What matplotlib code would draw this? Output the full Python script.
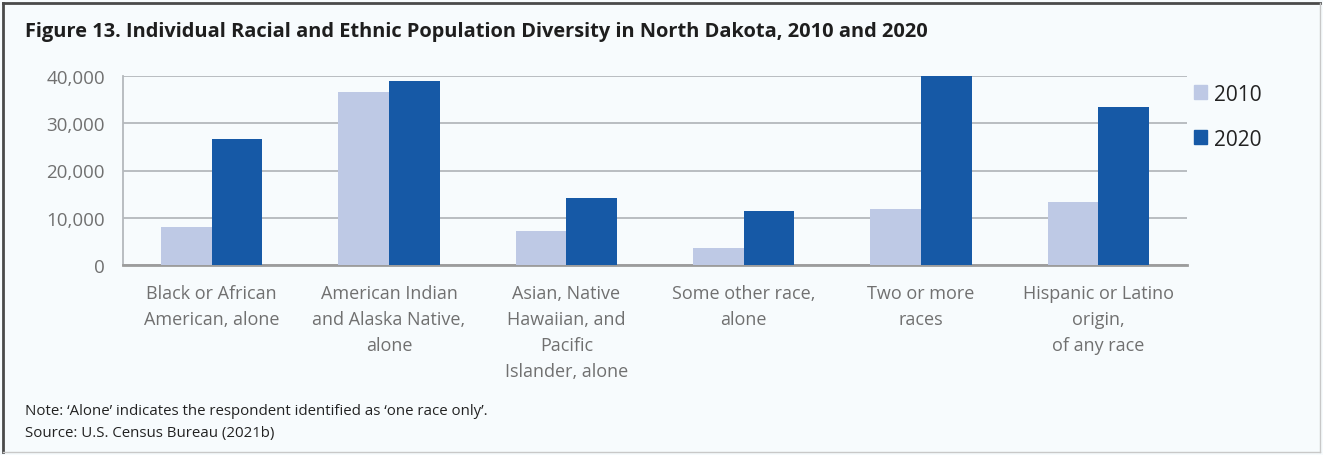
import numpy as np
import matplotlib.pyplot as plt
from matplotlib.lines import Line2D
from matplotlib.patches import Patch

plt.rcParams['font.family'] = ['Open Sans', 'DejaVu Sans']

categories = ['Black or African\nAmerican, alone',
              'American Indian\nand Alaska Native,\nalone',
              'Asian, Native\nHawaiian, and\nPacific\nIslander, alone',
              'Some other race,\nalone',
              'Two or more\nraces',
              'Hispanic or Latino\norigin,\nof any race']
pop_2010 = [7900, 36600, 7200, 3500, 11800, 13400]
pop_2020 = [26700, 38900, 14100, 11300, 40000, 33400]
yticks = [0, 10000, 20000, 30000, 40000]

bg = '#f7fbfd'
c2010 = '#bec9e5'
c2020 = '#1659a6'

W, H = 1323, 456
fig = plt.figure(figsize=(W / 100, H / 100), dpi=100, facecolor=bg)

# outer frame
fig.add_artist(Line2D([3 / W, 1320 / W], [1 - 4 / H, 1 - 4 / H], color='#4a4a4a', lw=2))
fig.add_artist(Line2D([3 / W, 3 / W], [1 - 4 / H, 1 - 453 / H], color='#4a4a4a', lw=2))
fig.add_artist(Line2D([3 / W, 1320 / W], [1 - 453 / H, 1 - 453 / H], color='#c8c8c8', lw=1))
fig.add_artist(Line2D([1320 / W, 1320 / W], [1 - 4 / H, 1 - 453 / H], color='#c8c8c8', lw=1))

ax = fig.add_axes([123 / W, 1 - 265.7 / H, (1187 - 123) / W, (265.7 - 77.3) / H])
ax.set_facecolor(bg)

x = np.arange(len(categories))
w = 0.285
ax.bar(x - w / 2, pop_2010, w, color=c2010, label='2010', zorder=3)
ax.bar(x + w / 2, pop_2020, w, color=c2020, label='2020', zorder=3)

ax.set_xlim(-0.5, len(categories) - 0.5)
ax.set_ylim(0, 40000)
ax.set_yticks(yticks)
ax.set_yticklabels([f'{v:,}' for v in yticks])
ax.set_xticks(x)
ax.set_xticklabels(categories, linespacing=1.56)
ax.tick_params(axis='y', length=0, pad=13, labelsize=13.5, labelcolor='#707070')
ax.tick_params(axis='x', length=0, pad=14, labelsize=13, labelcolor='#707070')
ax.grid(axis='y', color='#b4b8bc', lw=1.3, zorder=0)
for s in ['top', 'right']:
    ax.spines[s].set_visible(False)
ax.spines['left'].set_color('#b4b8bc')
ax.spines['left'].set_linewidth(1.3)
ax.spines['bottom'].set_color('#9c9c9c')
ax.spines['bottom'].set_linewidth(2)

handles = [Patch(color=c2010), Patch(color=c2020)]
fig.legend(handles, ['2010', '2020'], loc='upper left',
           bbox_to_anchor=(1175 / W, 1 - 66 / H), frameon=False,
           fontsize=15, handlelength=0.65, handleheight=0.65,
           handletextpad=0.3, labelspacing=1.14, labelcolor='#222222')

fig.text(25 / W, 1 - 32 / H, 'Figure 13. Individual Racial and Ethnic Population Diversity in North Dakota, 2010 and 2020',
         fontsize=14.45, fontweight='bold', color='#1e1e1e', va='center', ha='left')
fig.text(25 / W, 1 - 412 / H, 'Note: \u2018Alone\u2019 indicates the respondent identified as \u2018one race only\u2019.',
         fontsize=10.8, color='#222222', va='center', ha='left')
fig.text(25 / W, 1 - 434 / H, 'Source: U.S. Census Bureau (2021b)',
         fontsize=10.8, color='#222222', va='center', ha='left')

fig.savefig('out.png', dpi=100, facecolor=bg)
